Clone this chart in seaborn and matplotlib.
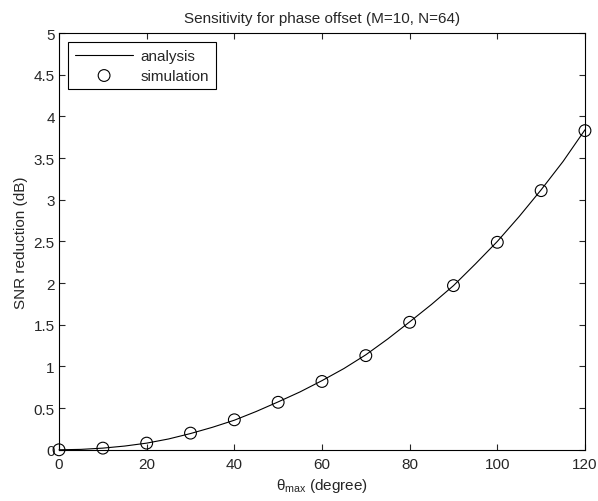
import matplotlib
matplotlib.use("Agg")
import matplotlib.pyplot as plt
import seaborn as sns
import pandas as pd

# analysis curve
theta_analysis = [0, 5, 10, 15, 20, 25, 30, 35, 40, 45, 50, 55, 60, 65, 70, 75,
                  80, 85, 90, 95, 100, 105, 110, 115, 120]
snr_analysis = [0.0, 0.005, 0.02, 0.045, 0.08, 0.13, 0.195, 0.27, 0.355, 0.46,
                0.575, 0.695, 0.83, 0.975, 1.14, 1.33, 1.535, 1.745, 1.97, 2.23,
                2.50, 2.80, 3.12, 3.46, 3.84]

# simulation points
theta_sim = [0, 10, 20, 30, 40, 50, 60, 70, 80, 90, 100, 110, 120]
snr_sim = [0.0, 0.02, 0.08, 0.20, 0.36, 0.57, 0.82, 1.13, 1.53, 1.97, 2.49, 3.11, 3.83]

xticks = [0, 20, 40, 60, 80, 100, 120]
yticks = [0, 0.5, 1, 1.5, 2, 2.5, 3, 3.5, 4, 4.5, 5]
ytick_labels = ["0", "0.5", "1", "1.5", "2", "2.5", "3", "3.5", "4", "4.5", "5"]

sns.set_style("ticks")
plt.rcParams["font.family"] = ["Liberation Sans", "DejaVu Sans"]
plt.rcParams["mathtext.fontset"] = "custom"
plt.rcParams["mathtext.rm"] = "Liberation Sans"
plt.rcParams["mathtext.it"] = "Liberation Sans"
plt.rcParams["xtick.direction"] = "in"
plt.rcParams["ytick.direction"] = "in"

FS = 11

df_a = pd.DataFrame({"theta": theta_analysis, "snr": snr_analysis})
df_s = pd.DataFrame({"theta": theta_sim, "snr": snr_sim})

fig = plt.figure(figsize=(5.98, 5.02), dpi=100)
ax = fig.add_axes([0.0987, 0.102, 0.8795, 0.83])

sns.lineplot(data=df_a, x="theta", y="snr", ax=ax, color="black", linewidth=0.8,
             label="analysis", clip_on=False)
sns.scatterplot(data=df_s, x="theta", y="snr", ax=ax, marker="o", s=72,
                facecolor="none", edgecolor="black", linewidth=0.8,
                label="simulation", clip_on=False, zorder=3)

ax.set_xlim(0, 120)
ax.set_ylim(0, 5)
ax.set_xticks(xticks)
ax.set_xticklabels([str(t) for t in xticks], fontsize=FS)
ax.set_yticks(yticks)
ax.set_yticklabels(ytick_labels, fontsize=FS)
ax.tick_params(top=True, right=True, length=4, width=0.8)
ax.tick_params(axis="x", pad=5)
ax.tick_params(axis="y", pad=3)
for sp in ax.spines.values():
    sp.set_visible(True)
    sp.set_linewidth(0.8)
    sp.set_color("black")

ax.set_title("Sensitivity for phase offset (M=10, N=64)", fontsize=FS, pad=8)
ax.set_xlabel(r"$\theta_{\mathrm{max}}$ (degree)", fontsize=FS, labelpad=4)
ax.set_ylabel("SNR reduction (dB)", fontsize=FS, labelpad=4)

leg = ax.legend(loc="upper left", fontsize=FS, frameon=True, fancybox=False,
                edgecolor="black", framealpha=1, borderaxespad=0.6,
                handlelength=3.8, borderpad=0.45, labelspacing=0.35,
                handletextpad=0.5)
leg.get_frame().set_linewidth(0.8)

fig.savefig("out.png", dpi=100)
